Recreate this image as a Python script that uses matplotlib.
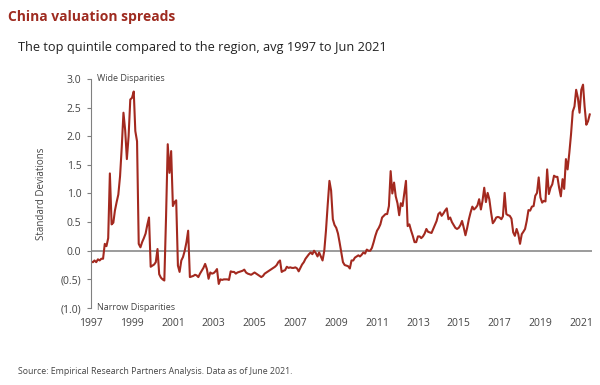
import matplotlib
matplotlib.use("Agg")
import matplotlib.pyplot as plt
import matplotlib.dates as mdates
import matplotlib.ticker as mticker
import pandas as pd

plt.rcParams['font.family'] = ['Open Sans', 'DejaVu Sans']

# monthly values, Jan 1997 .. Jun 2021 (std devs), one row per year
spread = [
    -0.19, -0.20, -0.17, -0.20, -0.15, -0.17, -0.14, -0.14, 0.12, 0.08, 0.22, 1.35,   # 1997
    0.46, 0.49, 0.70, 0.85, 0.98, 1.30, 1.80, 2.41, 2.10, 1.60, 2.00, 2.64,           # 1998
    2.67, 2.78, 2.09, 1.91, 0.12, 0.06, 0.15, 0.22, 0.30, 0.45, 0.58, -0.28,          # 1999
    -0.26, -0.24, -0.20, 0.03, -0.41, -0.47, -0.50, -0.52, 0.60, 1.86, 1.36, 1.74,    # 2000
    0.78, 0.85, 0.88, -0.26, -0.37, -0.17, -0.11, 0.00, 0.15, 0.35, -0.46, -0.45,     # 2001
    -0.44, -0.42, -0.43, -0.46, -0.40, -0.35, -0.30, -0.23, -0.32, -0.49, -0.38, -0.40,  # 2002
    -0.39, -0.36, -0.32, -0.58, -0.50, -0.51, -0.50, -0.50, -0.50, -0.51, -0.36, -0.37,  # 2003
    -0.37, -0.40, -0.38, -0.37, -0.36, -0.35, -0.33, -0.38, -0.40, -0.41, -0.42, -0.40,  # 2004
    -0.38, -0.40, -0.42, -0.44, -0.46, -0.44, -0.40, -0.38, -0.36, -0.34, -0.32, -0.30,  # 2005
    -0.28, -0.25, -0.20, -0.17, -0.37, -0.35, -0.34, -0.28, -0.30, -0.29, -0.30, -0.30,  # 2006
    -0.29, -0.31, -0.36, -0.30, -0.24, -0.20, -0.14, -0.10, -0.06, -0.03, -0.06, 0.00,   # 2007
    -0.04, -0.10, -0.03, -0.10, -0.17, 0.00, 0.35, 0.80, 1.22, 1.05, 0.55, 0.45,        # 2008
    0.40, 0.30, 0.15, -0.03, -0.20, -0.25, -0.26, -0.27, -0.31, -0.17, -0.17, -0.12,    # 2009
    -0.10, -0.08, -0.10, -0.07, -0.03, -0.05, 0.02, 0.00, 0.00, 0.05, 0.15, 0.26,       # 2010
    0.35, 0.40, 0.46, 0.58, 0.61, 0.64, 0.64, 0.78, 1.39, 1.00, 1.19, 0.95,             # 2011
    0.83, 0.62, 0.83, 0.78, 1.00, 1.22, 0.43, 0.46, 0.35, 0.26, 0.15, 0.15,             # 2012
    0.25, 0.25, 0.22, 0.25, 0.30, 0.38, 0.33, 0.32, 0.31, 0.38, 0.45, 0.52,             # 2013
    0.64, 0.67, 0.61, 0.65, 0.70, 0.74, 0.55, 0.58, 0.50, 0.45, 0.40, 0.38,             # 2014
    0.40, 0.45, 0.52, 0.40, 0.27, 0.40, 0.55, 0.67, 0.77, 0.72, 0.75, 0.79,             # 2015
    0.90, 0.72, 0.87, 1.10, 0.85, 1.01, 0.90, 0.67, 0.48, 0.52, 0.58, 0.59,             # 2016
    0.58, 0.55, 0.60, 1.01, 0.64, 0.62, 0.61, 0.56, 0.32, 0.26, 0.38, 0.29,             # 2017
    0.12, 0.29, 0.33, 0.38, 0.52, 0.71, 0.70, 0.77, 0.78, 0.96, 1.01, 1.28,             # 2018
    0.93, 0.84, 0.87, 0.86, 1.42, 0.99, 1.10, 1.16, 1.31, 1.29, 1.29, 1.10,             # 2019
    0.95, 1.25, 1.08, 1.60, 1.42, 1.71, 2.03, 2.43, 2.52, 2.81, 2.67, 2.41,             # 2020
    2.81, 2.90, 2.52, 2.20, 2.26, 2.38,                                                 # 2021
]
dates = pd.date_range("1997-01-01", periods=len(spread), freq="MS")

y_ticks = [-1.0, -0.5, 0.0, 0.5, 1.0, 1.5, 2.0, 2.5, 3.0]
x_years = list(range(1997, 2022, 2))

red = "#A3291F"
grey_txt = "#444444"

fig = plt.figure(figsize=(6, 3.85), dpi=100)
ax = fig.add_axes([0.152, 0.2, 0.835, 0.595])

ax.axhline(0, color="#808080", linewidth=1.1, zorder=1)
ax.plot(dates, spread, color=red, linewidth=1.5, zorder=2)

ax.set_ylim(-1.0, 3.0)
ax.set_xlim(pd.Timestamp("1997-01-01"), pd.Timestamp("2021-07-15"))
ax.set_yticks(y_ticks)
ax.yaxis.set_major_formatter(mticker.FuncFormatter(
    lambda v, p: "(%.1f)" % abs(v) if v < 0 else "%.1f" % v))
ax.set_xticks([pd.Timestamp("%d-01-01" % y) for y in x_years])
ax.xaxis.set_major_formatter(mdates.DateFormatter("%Y"))

for s in ["top", "right", "bottom"]:
    ax.spines[s].set_visible(False)
ax.spines["left"].set_color("#808080")
ax.tick_params(axis="y", length=3, color="#808080", labelsize=7.5,
               labelcolor=grey_txt, pad=4)
ax.tick_params(axis="x", length=0, labelsize=7.5, labelcolor=grey_txt, pad=7)
ax.set_ylabel("Standard Deviations", fontsize=7, color=grey_txt, labelpad=10)

ax.text(0.012, 1.0, "Wide Disparities", transform=ax.transAxes,
        fontsize=6.5, color=grey_txt, va="center", ha="left")
ax.text(0.012, 0.0, "Narrow Disparities", transform=ax.transAxes,
        fontsize=6.5, color=grey_txt, va="center", ha="left")

fig.text(0.013, 0.955, "China valuation spreads", fontsize=10,
         fontweight="bold", color="#9E2B20", va="center", ha="left")
fig.text(0.03, 0.877, "The top quintile compared to the region, avg 1997 to Jun 2021",
         fontsize=9.2, color="#222222", va="center", ha="left")
fig.text(0.03, 0.034, "Source: Empirical Research Partners Analysis. Data as of June 2021.",
         fontsize=6.3, color=grey_txt, va="center", ha="left")

fig.savefig("out.png", dpi=100)
